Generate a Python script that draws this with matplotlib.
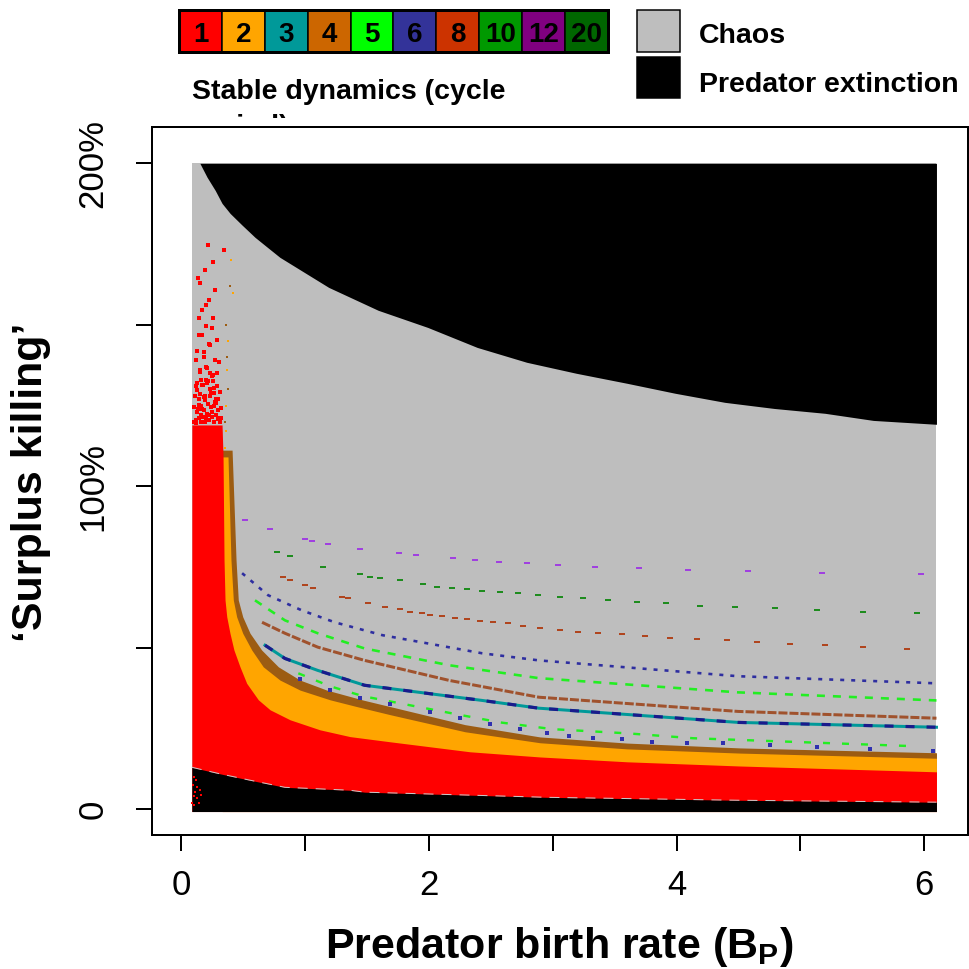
import matplotlib
matplotlib.use("Agg")
import matplotlib.pyplot as plt
from matplotlib.patches import Rectangle
from matplotlib.transforms import Bbox

plt.rcParams['font.family'] = ['Liberation Sans', 'DejaVu Sans']
plt.rcParams['mathtext.fontset'] = 'custom'
plt.rcParams['mathtext.rm'] = 'Liberation Sans'
plt.rcParams['mathtext.bf'] = 'Liberation Sans:bold'
plt.rcParams['lines.scale_dashes'] = False

# ---------------- data ----------------
X_MIN, X_MAX = 0.085, 6.10
Y_MIN, Y_MAX = -0.007, 2.0

cycle_labels = ['1', '2', '3', '4', '5', '6', '8', '10', '12', '20']
cycle_colors = ['#FF0000', '#FFA500', '#009999', '#CC6600', '#00FF00',
                '#333399', '#CC3300', '#009900', '#800080', '#006600']

# predator extinction (upper black) lower boundary
x_extinct = [0.15, 0.208, 0.274, 0.329, 0.394, 0.490, 0.595, 0.692, 0.796, 1.19, 1.59,
             1.99, 2.39, 2.79, 3.19, 3.60, 3.99, 4.39, 4.79, 5.20, 5.59, 6.10]
y_extinct = [2.0, 1.957, 1.916, 1.876, 1.845, 1.809, 1.771, 1.741, 1.709, 1.616, 1.545,
             1.492, 1.430, 1.384, 1.350, 1.319, 1.288, 1.260, 1.241, 1.226, 1.204, 1.192]

# cycle-4 band (top edge)
x_c4 = [0.330, 0.410, 0.442, 0.460, 0.496, 0.555, 0.649, 0.784, 0.959, 1.175, 1.470,
        1.686, 2.292, 2.897, 3.600, 4.513, 6.10]
y_c4 = [1.112, 1.112, 0.772, 0.648, 0.596, 0.545, 0.493, 0.441, 0.400, 0.369, 0.338,
        0.318, 0.262, 0.224, 0.205, 0.190, 0.175]

# cycle-2 band (top edge)
x_c2 = [0.330, 0.377, 0.401, 0.420, 0.447, 0.496, 0.569, 0.662, 0.797, 0.959, 1.201,
        1.417, 1.686, 2.292, 2.897, 3.600, 4.513, 6.10]
y_c2 = [1.091, 1.091, 0.772, 0.648, 0.596, 0.545, 0.493, 0.441, 0.400, 0.369, 0.339,
        0.318, 0.293, 0.240, 0.206, 0.187, 0.174, 0.158]

# cycle-1 (stable point) region (top edge)
x_c1 = [0.085, 0.329, 0.337, 0.345, 0.353, 0.367, 0.393, 0.425, 0.474, 0.528, 0.622,
        0.717, 0.879, 1.120, 1.363, 1.686, 2.332, 2.897, 3.600, 4.513, 6.10]
y_c1 = [1.190, 1.190, 1.091, 0.772, 0.648, 0.596, 0.545, 0.493, 0.441, 0.390, 0.339,
        0.308, 0.277, 0.246, 0.225, 0.209, 0.178, 0.162, 0.147, 0.134, 0.116]

# lower extinction region (top edge)
x_low = [0.085, 0.298, 0.555, 0.837, 1.36, 1.48, 2.96, 4.49, 6.10]
y_low = [0.130, 0.111, 0.090, 0.068, 0.059, 0.053, 0.037, 0.028, 0.022]

# thin period-4 line
x_l4 = [0.652, 0.837, 1.102, 1.480, 2.164, 2.888, 4.497, 6.10]
y_l4 = [0.579, 0.545, 0.502, 0.461, 0.399, 0.347, 0.303, 0.282]
# period-3 line
x_l3 = [0.676, 0.837, 1.102, 1.480, 2.430, 2.888, 4.497, 6.10]
y_l3 = [0.508, 0.467, 0.430, 0.384, 0.337, 0.313, 0.269, 0.254]
# period-5 line (upper)
x_l5 = [0.595, 0.837, 1.102, 1.480, 2.164, 2.888, 4.497, 6.10]
y_l5 = [0.647, 0.585, 0.545, 0.498, 0.446, 0.406, 0.362, 0.337]
# period-5 line (lower)
x_l5b = [0.945, 1.201, 1.470, 1.686, 2.227, 2.574, 3.002, 3.608, 4.133, 4.779, 5.506, 5.942]
y_l5b = [0.421, 0.381, 0.350, 0.334, 0.294, 0.269, 0.248, 0.235, 0.220, 0.211, 0.201, 0.195]
# period-6 line
x_l6 = [0.491, 0.700, 0.973, 1.239, 1.625, 2.430, 2.888, 4.497, 6.10]
y_l6 = [0.731, 0.663, 0.616, 0.579, 0.539, 0.483, 0.461, 0.412, 0.390]

# period-8 points
x_p8 = [0.824, 0.880, 1.002, 1.066, 1.300, 1.349, 1.510, 1.648, 1.769, 1.850, 1.947, 2.011,
        2.108, 2.213, 2.310, 2.415, 2.520, 2.641, 2.763, 2.900, 3.061, 3.207, 3.368, 3.562,
        3.748, 3.950, 4.168, 4.410, 4.653, 4.919, 5.202, 5.509, 5.864]
y_p8 = [0.719, 0.710, 0.694, 0.685, 0.657, 0.654, 0.638, 0.626, 0.620, 0.611, 0.608, 0.602,
        0.598, 0.592, 0.589, 0.583, 0.580, 0.577, 0.568, 0.562, 0.555, 0.549, 0.546, 0.543,
        0.537, 0.530, 0.527, 0.524, 0.518, 0.512, 0.509, 0.502, 0.496]
# period-10 points
x_p10 = [0.775, 0.880, 1.147, 1.446, 1.527, 1.607, 1.769, 1.955, 2.068, 2.189, 2.310, 2.431,
         2.577, 2.722, 2.884, 3.061, 3.247, 3.449, 3.683, 3.918, 4.192, 4.475, 4.798, 5.137,
         5.509, 5.945]
y_p10 = [0.797, 0.784, 0.750, 0.728, 0.719, 0.715, 0.710, 0.697, 0.688, 0.685, 0.682, 0.676,
         0.673, 0.670, 0.664, 0.657, 0.654, 0.648, 0.642, 0.639, 0.629, 0.626, 0.623, 0.617,
         0.611, 0.608]
# period-12 points
x_p12 = [0.517, 0.719, 1.002, 1.058, 1.187, 1.446, 1.761, 1.898, 2.197, 2.375, 2.569, 2.795,
         3.045, 3.344, 3.700, 4.095, 4.580, 5.178, 5.977]
y_p12 = [0.896, 0.868, 0.837, 0.831, 0.821, 0.806, 0.793, 0.787, 0.778, 0.771, 0.765, 0.763,
         0.756, 0.750, 0.747, 0.740, 0.737, 0.731, 0.728]
# period-6 points just above the period-4 band
x_p6 = [0.959, 1.201, 1.444, 1.686, 2.009, 2.251, 2.494, 2.736, 2.954, 3.132, 3.328, 3.562,
        3.805, 4.087, 4.378, 4.758, 5.137, 5.565, 6.074]
y_p6 = [0.403, 0.369, 0.344, 0.325, 0.300, 0.282, 0.263, 0.248, 0.237, 0.227, 0.221, 0.218,
        0.209, 0.205, 0.205, 0.200, 0.193, 0.186, 0.180]

# scattered stable (period 1) points above the solid block
x_s1 = [0.121, 0.162, 0.202, 0.250, 0.299, 0.145, 0.194, 0.234, 0.283, 0.323, 0.129, 0.178,
        0.218, 0.267, 0.315, 0.153, 0.210, 0.258, 0.307, 0.121, 0.186, 0.234, 0.291, 0.145,
        0.202, 0.258, 0.170, 0.226, 0.275, 0.153, 0.137, 0.194, 0.258, 0.347, 0.218,
        0.13, 0.17, 0.22, 0.26, 0.30, 0.14, 0.19, 0.24, 0.28, 0.12, 0.16, 0.21, 0.25, 0.29,
        0.15, 0.20, 0.23, 0.18, 0.27, 0.13, 0.22, 0.17, 0.25, 0.14, 0.20,
        0.10, 0.115, 0.14, 0.155, 0.175, 0.19, 0.205, 0.225, 0.245, 0.265, 0.28, 0.31, 0.32,
        0.105, 0.135, 0.16, 0.185, 0.215, 0.24, 0.27, 0.295,
        0.11, 0.15, 0.18, 0.23, 0.26, 0.30, 0.125, 0.165, 0.20, 0.255, 0.285]
y_s1 = [1.205, 1.221, 1.211, 1.230, 1.208, 1.252, 1.267, 1.280, 1.258, 1.242, 1.298, 1.314,
        1.326, 1.304, 1.292, 1.354, 1.366, 1.344, 1.385, 1.391, 1.416, 1.438, 1.453, 1.469,
        1.497, 1.521, 1.546, 1.577, 1.608, 1.630, 1.645, 1.670, 1.695, 1.732, 1.747,
        1.23, 1.24, 1.22, 1.25, 1.21, 1.27, 1.28, 1.29, 1.27, 1.31, 1.33, 1.32, 1.34, 1.31,
        1.36, 1.37, 1.35, 1.40, 1.39, 1.42, 1.44, 1.47, 1.49, 1.52, 1.56,
        1.20, 1.195, 1.21, 1.20, 1.215, 1.20, 1.225, 1.205, 1.215, 1.20, 1.22, 1.20, 1.21,
        1.245, 1.24, 1.25, 1.235, 1.255, 1.245, 1.26, 1.235,
        1.28, 1.285, 1.275, 1.30, 1.29, 1.27, 1.32, 1.315, 1.33, 1.325, 1.35]
x_s1b = [0.10, 0.12, 0.095, 0.13, 0.11, 0.15, 0.10, 0.125, 0.09, 0.14, 0.16, 0.105]
y_s1b = [0.10, 0.09, 0.075, 0.07, 0.055, 0.06, 0.04, 0.035, 0.02, 0.02, 0.045, 0.012]
x_s2 = [0.40, 0.42, 0.38, 0.37, 0.36, 0.36, 0.35]
y_s2 = [1.70, 1.60, 1.45, 1.36, 1.25, 1.17, 1.12]
x_s4 = [0.36, 0.37, 0.38, 0.355, 0.39]
y_s4 = [1.50, 1.40, 1.30, 1.20, 1.62]

x_ticks = [0, 1, 2, 3, 4, 5, 6]
x_ticklabels = ['0', '', '2', '', '4', '', '6']
y_ticks = [0, 0.5, 1.0, 1.5, 2.0]
y_ticklabels = ['0', '', '100%', '', '200%']

xlabel = r'Predator birth rate (B$_{\mathbf{P}}$)'
ylabel = '\u2018Surplus killing\u2019'

# ---------------- drawing ----------------
PT = 0.72  # points per pixel at 100 dpi
GRAY = '#BEBEBE'
BAND4 = '#9C5C12'

fig = plt.figure(figsize=(9.69, 9.69), dpi=100)
ax = fig.add_axes([0.1566, 0.1383, 0.8424, 0.7303])

ax.fill_between([X_MIN, X_MAX], Y_MIN, Y_MAX, color=GRAY, lw=0)
ax.fill_between(x_extinct, y_extinct, Y_MAX, color='black', lw=0)
ax.fill_between(x_c4, Y_MIN, y_c4, color=BAND4, lw=0)
ax.fill_between(x_c2, Y_MIN, y_c2, color='#FFA500', lw=0)
ax.fill_between(x_c1, Y_MIN, y_c1, color='#FF0000', lw=0)
ax.fill_between(x_low, Y_MIN, y_low, color='black', lw=0)
ax.plot(x_low, y_low, color='#C8C8C8', lw=1.0 * PT, dashes=(10 * PT, 8 * PT))

ax.plot(x_l4, y_l4, color='#A0522D', lw=3 * PT, dashes=(9 * PT, 2 * PT), solid_capstyle='butt')
ax.plot(x_l3, y_l3, color='#009999', lw=3 * PT)
ax.plot(x_l3, y_l3, color='#1A1A8C', lw=3.2 * PT, dashes=(9 * PT, 12 * PT))
ax.plot(x_l5, y_l5, color='#22EE22', lw=2.6 * PT, dashes=(8 * PT, 8 * PT))
ax.plot(x_l5b, y_l5b, color='#22EE22', lw=2.4 * PT, dashes=(7 * PT, 12 * PT))
ax.plot(x_l6, y_l6, color='#2E2EA0', lw=2.6 * PT, dashes=(4 * PT, 7 * PT))

rect = [(-1, -0.45), (1, -0.45), (1, 0.45), (-1, 0.45), (-1, -0.45)]
ax.plot(x_p8, y_p8, ls='none', marker=rect, ms=6 * PT, mew=0, color='#B0451E')
ax.plot(x_p10, y_p10, ls='none', marker=rect, ms=6 * PT, mew=0, color='#1E8C1E')
ax.plot(x_p12, y_p12, ls='none', marker=rect, ms=6 * PT, mew=0, color='#A040E0')
ax.plot(x_p6, y_p6, ls='none', marker='s', ms=3.5 * PT, mew=0, color='#3030B0')

ax.plot(x_s1, y_s1, ls='none', marker='s', ms=3.2 * PT, mew=0, color='#FF0000')
ax.plot(x_s1b, y_s1b, ls='none', marker='s', ms=2.8 * PT, mew=0, color='#FF0000')
ax.plot(x_s2, y_s2, ls='none', marker='s', ms=2.8 * PT, mew=0, color='#FFA500')
ax.plot(x_s4, y_s4, ls='none', marker='s', ms=2.8 * PT, mew=0, color=BAND4)

ax.set_xlim(-0.239, 6.355)
ax.set_ylim(-0.0796, 2.1115)
ax.set_facecolor('white')
for s in ax.spines.values():
    s.set_linewidth(2 * PT)

ax.set_xticks(x_ticks)
ax.set_xticklabels(x_ticklabels)
ax.set_yticks(y_ticks)
ax.set_yticklabels(y_ticklabels, rotation=90, va='center')
ax.tick_params(axis='both', direction='out', length=16 * PT, width=2 * PT, labelsize=25)
ax.tick_params(axis='x', pad=18 * PT)
ax.tick_params(axis='y', pad=26 * PT)

# overlay in pixel coordinates for the legend & axis titles
ov = fig.add_axes([0, 0, 1, 1], zorder=5)
ov.set_xlim(0, 969)
ov.set_ylim(969, 0)
ov.axis('off')
ov.patch.set_alpha(0)

bw = 42.9
for i, (lab, col) in enumerate(zip(cycle_labels, cycle_colors)):
    x0 = 179 + i * bw
    ov.add_patch(Rectangle((x0, 10), bw, 42, facecolor=col, edgecolor='black', lw=1.5 * PT))
    ov.text(x0 + bw / 2, 41.5, lab, ha='center', va='baseline', fontsize=20, fontweight='bold')
ov.add_patch(Rectangle((179, 10), bw * 10, 42, fill=False, edgecolor='black', lw=3 * PT))

ov.add_patch(Rectangle((637, 10), 43, 42, facecolor=GRAY, edgecolor='black', lw=1.5 * PT))
ov.add_patch(Rectangle((637, 57), 43, 41, facecolor='black', edgecolor='black', lw=1.5 * PT))
ov.text(699, 43, 'Chaos', ha='left', va='baseline', fontsize=20.5, fontweight='bold')
ov.text(699, 92, 'Predator extinction', ha='left', va='baseline', fontsize=20.5, fontweight='bold')
ov.text(192, 99, 'Stable dynamics (cycle', ha='left', va='baseline', fontsize=20.5, fontweight='bold')
t2 = ov.text(192, 134, 'period)', ha='left', va='baseline', fontsize=20.5, fontweight='bold')
t2.set_clip_box(Bbox([[0, 969 - 118], [969, 969]]))
t2.set_clip_on(True)

ov.text(559.5, 958, xlabel, ha='center', va='baseline', fontsize=31, fontweight='bold')
ov.text(31, 482, ylabel, ha='center', va='center', rotation=90, fontsize=31, fontweight='bold')

fig.savefig('out.png', dpi=100)
